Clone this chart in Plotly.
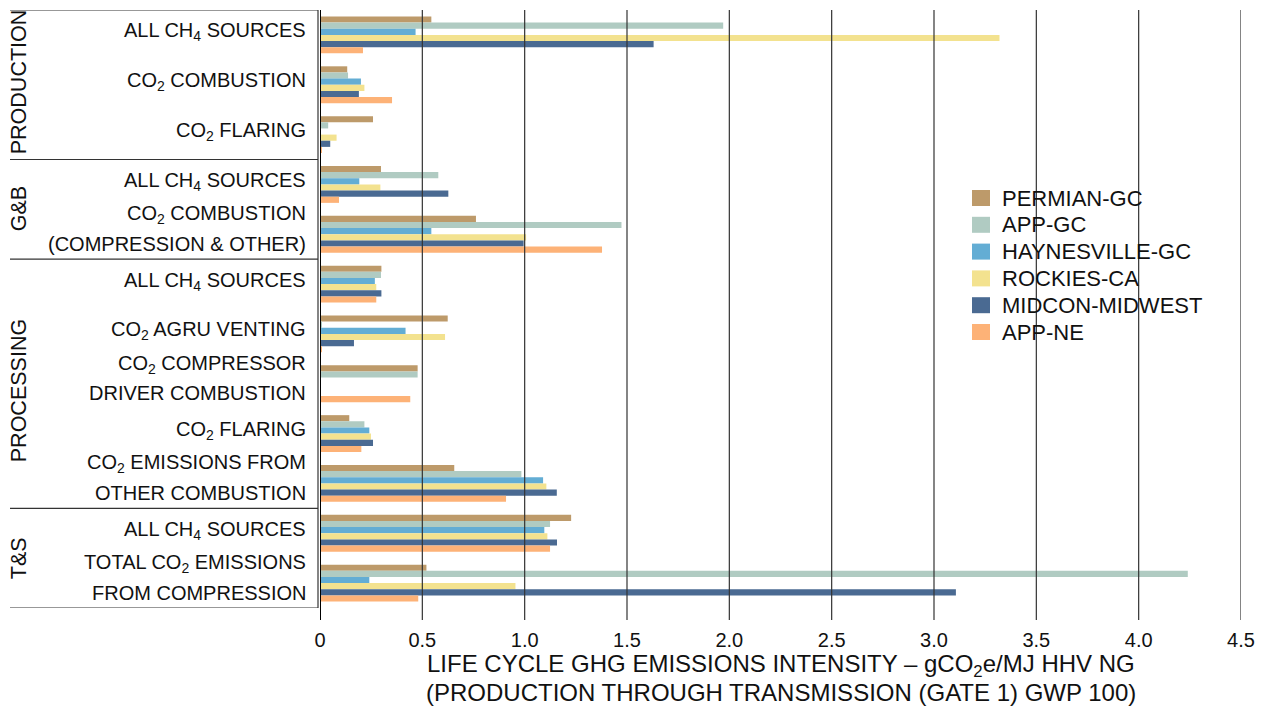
import plotly.graph_objects as go

# Emission source categories (top to bottom) and their life-cycle stage
categories = [
    "ALL CH<sub>4</sub> SOURCES",
    "CO<sub>2</sub> COMBUSTION",
    "CO<sub>2</sub> FLARING",
    "ALL CH<sub>4</sub> SOURCES",
    "CO<sub>2</sub> COMBUSTION<br>(COMPRESSION & OTHER)",
    "ALL CH<sub>4</sub> SOURCES",
    "CO<sub>2</sub> AGRU VENTING",
    "CO<sub>2</sub> COMPRESSOR<br>DRIVER COMBUSTION",
    "CO<sub>2</sub> FLARING",
    "CO<sub>2</sub> EMISSIONS FROM<br>OTHER COMBUSTION",
    "ALL CH<sub>4</sub> SOURCES",
    "TOTAL CO<sub>2</sub> EMISSIONS<br>FROM COMPRESSION",
]
stages = ["PRODUCTION", "G&B", "PROCESSING", "T&S"]
stage_sizes = [3, 2, 5, 2]

series_names = ["PERMIAN-GC", "APP-GC", "HAYNESVILLE-GC", "ROCKIES-CA", "MIDCON-MIDWEST", "APP-NE"]
permian_gc = [0.544, 0.133, 0.259, 0.298, 0.762, 0.300, 0.624, 0.477, 0.143, 0.656, 1.227, 0.520]
app_gc = [1.970, 0.137, 0.040, 0.578, 1.473, 0.298, 0.005, 0.477, 0.217, 0.984, 1.124, 4.240]
haynesville_gc = [0.467, 0.200, 0.000, 0.192, 0.544, 0.268, 0.418, 0.000, 0.241, 1.090, 1.096, 0.241]
rockies_ca = [3.320, 0.217, 0.081, 0.295, 1.007, 0.275, 0.611, 0.000, 0.249, 1.106, 1.111, 0.955]
midcon_midwest = [1.630, 0.190, 0.050, 0.627, 0.995, 0.300, 0.166, 0.000, 0.259, 1.157, 1.158, 3.107]
app_ne = [0.210, 0.352, 0.008, 0.093, 1.378, 0.275, 0.008, 0.441, 0.202, 0.909, 1.124, 0.480]
series_values = [permian_gc, app_gc, haynesville_gc, rockies_ca, midcon_midwest, app_ne]
colors = ["#BD9A6A", "#B0CBC2", "#63ADD4", "#F3E28F", "#4A6A92", "#FDB277"]

x_ticks = [0, 0.5, 1.0, 1.5, 2.0, 2.5, 3.0, 3.5, 4.0, 4.5]
x_tick_text = ["0", "0.5", "1.0", "1.5", "2.0", "2.5", "3.0", "3.5", "4.0", "4.5"]
x_title_lines = [
    "LIFE CYCLE GHG EMISSIONS INTENSITY – gCO<sub>2</sub>e/MJ HHV NG",
    "(PRODUCTION THROUGH TRANSMISSION (GATE 1) GWP 100)",
]

FONT = "Liberation Sans, Arial, sans-serif"
INK = "#111111"

W, H = 1268, 711
L, R, T, B = 320, 27, 10, 103
pw, ph = W - L - R, H - T - B


def px_x(px):
    return (px - L) / pw


def px_y(py):
    return (H - B - py) / ph


positions = list(range(len(categories)))

fig = go.Figure()
for name, vals, col in zip(series_names, series_values, colors):
    fig.add_trace(go.Bar(
        y=positions, x=vals, name=name, orientation="h",
        marker=dict(color=col, line=dict(width=0)),
        showlegend=False, hoverinfo="x+name",
    ))

shapes = []
annotations = []

# vertical grid lines with the tick marks running below the plot
for xv in x_ticks[1:]:
    shapes.append(dict(type="line", xref="x", yref="paper", x0=xv, x1=xv,
                       y0=px_y(620), y1=1, line=dict(color="#333333", width=1.2)))
# value axis baseline
shapes.append(dict(type="line", xref="x", yref="paper", x0=0, x1=0,
                   y0=px_y(620), y1=1, line=dict(color="#000000", width=2)))

# category labels, right-aligned against the table edge, one text per line
for pos, label in zip(positions, categories):
    lines = label.split("<br>")
    n = len(lines)
    for k, line in enumerate(lines):
        shift = 5 + (n - 1) * 14.5 - k * 29 if n > 1 else 3
        annotations.append(dict(x=px_x(308), xref="paper", y=pos, yref="y", yshift=shift,
                                text=line, showarrow=False, xanchor="right", yanchor="middle",
                                font=dict(family=FONT, size=20, color=INK)))

# stage table on the left
tx0, tx1 = px_x(10), px_x(318)
bounds = [-0.5]
acc = -0.5
for n in stage_sizes:
    acc += n
    bounds.append(acc)
for b in bounds:
    shapes.append(dict(type="line", xref="paper", yref="y", x0=tx0, x1=tx1,
                       y0=b, y1=b, line=dict(color="#333333", width=1.2)))
shapes.append(dict(type="line", xref="paper", yref="y", x0=tx1, x1=tx1,
                   y0=bounds[0], y1=bounds[-1], line=dict(color="#333333", width=1.2)))

stage_label_rows = [0.95, 3.5, 7.15, 10.5]
for stage, row in zip(stages, stage_label_rows):
    annotations.append(dict(x=px_x(19), xref="paper", y=row, yref="y",
                            text=stage, textangle=-90, showarrow=False,
                            xanchor="center", yanchor="middle",
                            font=dict(family=FONT, size=21.5, color=INK)))

# legend
for i, (name, col) in enumerate(zip(series_names, colors)):
    cy = 198 + i * 26.8
    shapes.append(dict(type="rect", xref="paper", yref="paper",
                       x0=px_x(972), x1=px_x(990), y0=px_y(cy + 8), y1=px_y(cy - 8),
                       fillcolor=col, line=dict(width=0)))
    annotations.append(dict(x=px_x(1000), xref="paper", y=px_y(cy), yref="paper",
                            text=name, showarrow=False, xanchor="left", yanchor="middle",
                            font=dict(family=FONT, size=22, color=INK)))

# value axis title, two centred lines
for k, line in enumerate(x_title_lines):
    annotations.append(dict(x=0.5, xref="paper", y=px_y(665 + k * 27.5), yref="paper",
                            text=line, showarrow=False, xanchor="center", yanchor="middle",
                            font=dict(family=FONT, size=24, color=INK)))

fig.update_layout(
    width=W, height=H,
    margin=dict(l=L, r=R, t=T, b=B, pad=0),
    paper_bgcolor="white", plot_bgcolor="white",
    barmode="group", bargap=0.26, bargroupgap=0,
    shapes=shapes, annotations=annotations,
    xaxis=dict(range=[0, 4.5], tickvals=x_ticks, ticktext=x_tick_text,
               showgrid=False, zeroline=False, showline=False, ticks="",
               ticklabelstandoff=18,
               tickfont=dict(family=FONT, size=20, color=INK)),
    yaxis=dict(range=[len(categories) - 0.5, -0.5], tickvals=positions,
               showticklabels=False, showgrid=False, zeroline=False, showline=False, ticks=""),
    font=dict(family=FONT, color=INK),
)

fig.write_html("out.html")
